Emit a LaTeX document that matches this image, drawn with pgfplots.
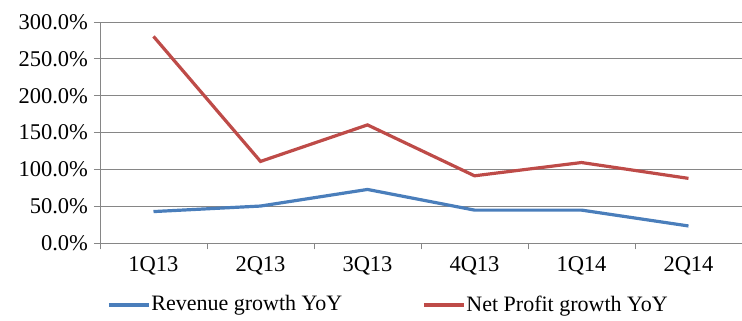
\documentclass[border=0pt]{standalone}
\usepackage{fontspec}
\setmainfont{Liberation Serif}
\usepackage{pgfplots}
\pgfplotsset{compat=1.18}
\definecolor{blueL}{RGB}{74,126,187}
\definecolor{redL}{RGB}{190,75,72}
\definecolor{gridG}{RGB}{134,134,134}
\begin{document}
\fontsize{22}{26}\selectfont
\begin{tikzpicture}
\begin{axis}[
 at={(0,0)}, anchor=south west,
 scale only axis, width=642pt, height=221.3pt,
 xmin=-0.5, xmax=5.5, ymin=0, ymax=300,
 xtick={-0.5,0.5,...,5.5}, x tick label as interval,
 xticklabels={1Q13,2Q13,3Q13,4Q13,1Q14,2Q14},
 ytick={0,50,...,300},
 yticklabels={0.0\%,50.0\%,100.0\%,150.0\%,200.0\%,250.0\%,300.0\%},
 ymajorgrids, grid style={gridG, line width=0.9pt},
 axis x line*=bottom, axis y line*=left,
 axis line style={gridG, line width=0.9pt, -},
 tick align=outside, major tick length=6pt,
 tick style={gridG, line width=0.9pt},
 ticklabel style={font=\fontsize{22.5}{26}\selectfont, text=black},
 yticklabel style={xshift=1.5pt},
 legend columns=2,
 legend style={draw=none, fill=none, at={(0.0109,-0.2788)}, anchor=west,
   inner sep=0pt, font=\fontsize{22}{26}\selectfont,
   nodes={inner sep=1pt},
   /tikz/every even column/.append style={column sep=79pt}},
 legend image code/.code={\draw[#1, line width=3.2pt] (0pt,0pt) -- (40pt,0pt);},
]
\addplot[blueL, line width=3.2pt] coordinates {(0,43) (1,50.5) (2,73) (3,45) (4,45) (5,23.5)};
\addlegendentry{Revenue growth YoY}
\addplot[redL, line width=3.2pt] coordinates {(0,280.5) (1,111) (2,160.5) (3,91.5) (4,109.5) (5,88)};
\addlegendentry{Net Profit growth YoY}
\end{axis}
\pgfresetboundingbox
\path (-100pt,-77.7pt) rectangle (642pt,243.3pt);
\end{tikzpicture}
\end{document}
